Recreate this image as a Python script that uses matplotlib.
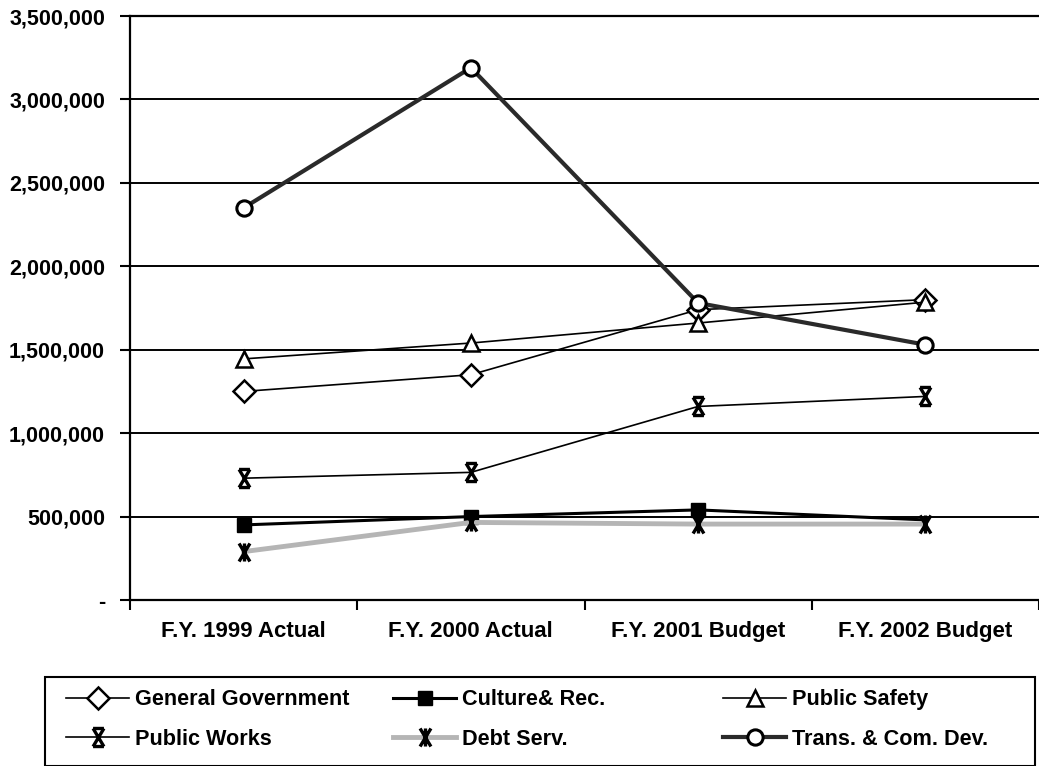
import numpy as np
import matplotlib
matplotlib.use('Agg')
import matplotlib.pyplot as plt
from matplotlib.path import Path
from matplotlib.patches import Rectangle
from matplotlib.ticker import FuncFormatter

plt.rcParams['font.family'] = ['Liberation Sans', 'DejaVu Sans']
plt.rcParams['font.weight'] = 'bold'

# Data
years = ['F.Y. 1999 Actual', 'F.Y. 2000 Actual', 'F.Y. 2001 Budget', 'F.Y. 2002 Budget']
gen_gov = [1250000, 1350000, 1740000, 1800000]
culture = [450000, 500000, 540000, 480000]
pub_safety = [1445000, 1540000, 1660000, 1785000]
pub_works = [730000, 765000, 1160000, 1220000]
debt_serv = [290000, 465000, 455000, 455000]
trans_dev = [2350000, 3190000, 1780000, 1530000]

# Custom markers (Excel style)
M, L = Path.MOVETO, Path.LINETO
pw_mark = Path([(-0.6, 1), (0.6, 1), (-0.6, -1), (0.6, -1),
                (-0.6, 1), (0.6, -1), (0.6, 1), (-0.6, -1)],
               [M, L, M, L, M, L, M, L])
debt_mark = Path([(-0.6, 1), (0.6, -1), (0.6, 1), (-0.6, -1), (0, 1), (0, -1)],
                 [M, L, M, L, M, L])

fig = plt.figure(figsize=(10.39, 7.66), dpi=100)
ax = fig.add_axes([130/1039, 1 - 600/766, 1 - 130/1039, (600-16)/766])

x = np.arange(len(years))

h_gg, = ax.plot(x, gen_gov, color='black', lw=1.2, marker='D', ms=11,
                mfc='white', mec='black', mew=1.8, label='General Government', zorder=3)
h_cr, = ax.plot(x, culture, color='black', lw=2.2, marker='s', ms=10,
                mfc='black', mec='black', markevery=[0, 1, 2],
                label='Culture& Rec.', zorder=3)
h_ps, = ax.plot(x, pub_safety, color='black', lw=1.2, marker='^', ms=11,
                mfc='white', mec='black', mew=1.8, label='Public Safety', zorder=3)
h_pw, = ax.plot(x, pub_works, color='black', lw=1.2, marker=pw_mark, ms=13,
                mfc='none', mec='black', mew=2.4, label='Public Works', zorder=3)
h_ds, = ax.plot(x, debt_serv, color='#b5b5b5', lw=3.5, marker=debt_mark, ms=13,
                mfc='none', mec='black', mew=2.4, label='Debt Serv.', zorder=3)
h_tr, = ax.plot(x, trans_dev, color='#2a2a2a', lw=3, marker='o', ms=11,
                mfc='white', mec='black', mew=2.2, label='Trans. & Com. Dev.', zorder=4)

ax.set_xlim(-0.5, 3.5)
ax.set_ylim(0, 3500000)

# y axis
ax.set_yticks(np.arange(0, 3500001, 500000))
ax.yaxis.set_major_formatter(FuncFormatter(lambda v, p: '-' if v == 0 else '{:,}'.format(int(v))))
ax.tick_params(axis='y', direction='out', length=7, width=1.5, pad=11, labelsize=15.5)
ax.yaxis.grid(True, color='black', lw=1.4)
ax.set_axisbelow(True)

# x axis: ticks at category boundaries, labels at centers
ax.set_xticks(np.arange(-0.5, 3.6, 1.0))
ax.set_xticklabels([])
ax.set_xticks(x, minor=True)
ax.set_xticklabels(years, minor=True)
ax.tick_params(axis='x', which='major', direction='out', length=7, width=1.5)
ax.tick_params(axis='x', which='minor', length=0, pad=15, labelsize=16)

for s in ['left', 'bottom', 'top']:
    ax.spines[s].set_linewidth(1.6)
ax.spines['right'].set_visible(False)

# Legend box
fig.patches.append(Rectangle((45/1039, 1 - 766/766), (1035-45)/1039, (766-677)/766,
                             transform=fig.transFigure, fill=False, ec='black', lw=1.5))

cols = [([h_gg, h_pw], 62), ([h_cr, h_ds], 389), ([h_ps, h_tr], 719)]
for hs, xp in cols:
    fig.legend(handles=hs, labels=[h.get_label() for h in hs], loc='upper left',
               bbox_to_anchor=(xp/1039, 1 - 685/766), frameon=False, fontsize=15.6,
               handlelength=2.9, handletextpad=0.25, labelspacing=0.85,
               borderaxespad=0, borderpad=0.2)

fig.savefig('out.png', dpi=100)
